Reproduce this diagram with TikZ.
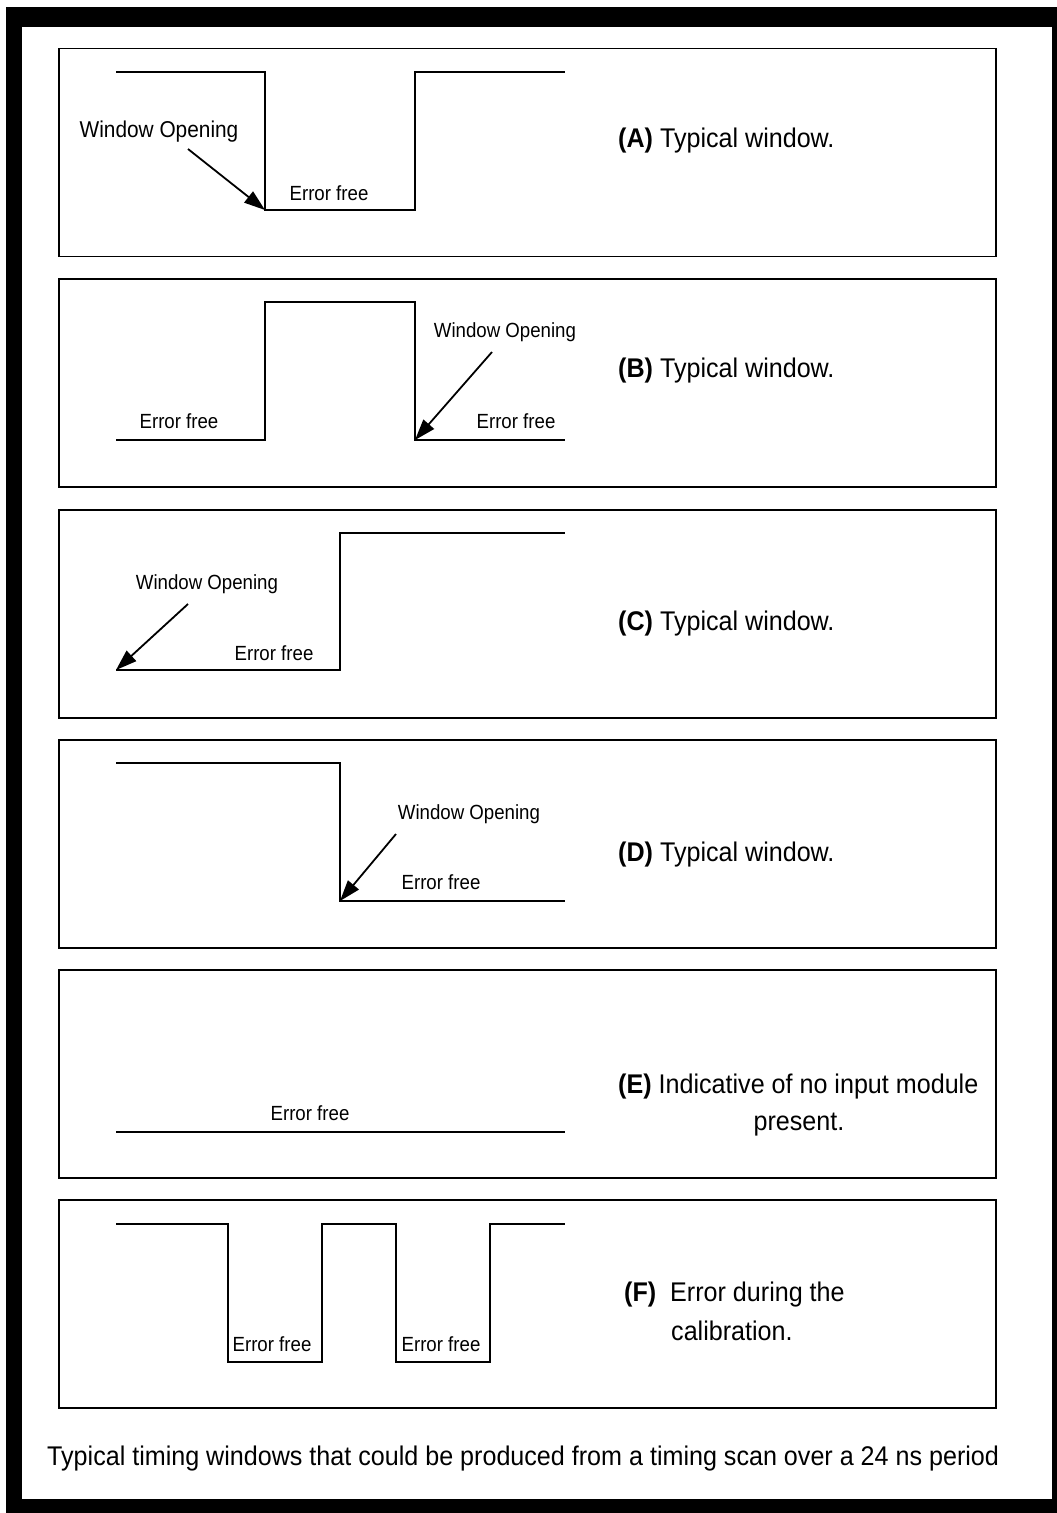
\documentclass[tikz,border=0pt]{standalone}
\usepackage{fontspec}
\setmainfont{Liberation Sans}
\newfontfamily\narrowsf[FakeStretch=0.93]{Liberation Sans}
\newfontfamily\tagsf[FakeStretch=0.91]{Liberation Sans}
\usetikzlibrary{arrows.meta}

\begin{document}
\begin{tikzpicture}[x=1pt, y=-1pt,
  wave/.style={line width=2pt, line join=miter},
  panel/.style={draw, line width=1.8pt},
  errlbl/.style={font=\tagsf\fontsize{20.5}{24}\selectfont, anchor=base, inner sep=0pt},
  winlbl/.style={font=\tagsf\fontsize{20.5}{24}\selectfont, anchor=base, inner sep=0pt},
  note/.style={font=\narrowsf\fontsize{27}{37}\selectfont, anchor=base west, inner sep=0pt},
  arr/.style={-{Triangle[length=21pt,width=14pt]}, line width=1.8pt}]
% outer frame
\fill[white] (0,0) rectangle (1057,1513);
\fill[black] (6,7) rectangle (1057,1513);
\fill[white] (22,27) rectangle (1052,1499);
\foreach \t in {48.5,279,510,740,970,1200} \draw[panel] (59,\t) rectangle (996,\t+208);
% (A)
\draw[wave] (116,72) -- (265,72) -- (265,210) coordinate (aLow) -- (415,210) -- (415,72) -- (565,72);
\node[winlbl, font=\tagsf\fontsize{22.9}{26}\selectfont] (winA) at (159,137) {Window Opening};
\node[errlbl] (errA) at (329,200) {Error free};
\coordinate (aTail) at (188,149);
\draw[arr] (aTail) -- (aLow);
\node[note] (noteA) at (618,147) {\textbf{(A)} Typical window.};
% (B)
\draw[wave] (116,440) -- (265,440) -- (265,302) -- (415,302) -- (415,440) coordinate (bLow) -- (565,440);
\node[errlbl] (errB1) at (179,428) {Error free};
\node[winlbl] (winB) at (505,337) {Window Opening};
\node[errlbl] (errB2) at (516,428) {Error free};
\coordinate (bTail) at (492,352);
\draw[arr] (bTail) -- (bLow);
\node[note] (noteB) at (618,377) {\textbf{(B)} Typical window.};
% (C)
\draw[wave] (116,670) coordinate (cLow) -- (340,670) -- (340,533) -- (565,533);
\node[winlbl] (winC) at (207,589) {Window Opening};
\node[errlbl] (errC) at (274,660) {Error free};
\coordinate (cTail) at (188,604);
\draw[arr] (cTail) -- (cLow);
\node[note] (noteC) at (618,630) {\textbf{(C)} Typical window.};
% (D)
\draw[wave] (116,763) -- (340,763) -- (340,901) coordinate (dLow) -- (565,901);
\node[winlbl] (winD) at (469,819) {Window Opening};
\node[errlbl] (errD) at (441,889) {Error free};
\coordinate (dTail) at (396,834);
\draw[arr] (dTail) -- (dLow);
\node[note] (noteD) at (618,861) {\textbf{(D)} Typical window.};
% (E)
\draw[wave] (116,1132) -- (565,1132);
\node[errlbl] (errE) at (310,1120) {Error free};
\node[note] (noteE) at (618,1093) {\textbf{(E)} Indicative of no input module};
\node[note, anchor=base] (noteE2) at (799,1130) {present.};
% (F)
\draw[wave] (116,1224) -- (228,1224) -- (228,1362) -- (322,1362) -- (322,1224) -- (396,1224)
  -- (396,1362) -- (490,1362) -- (490,1224) -- (565,1224);
\node[errlbl] (errF1) at (272,1351) {Error free};
\node[errlbl] (errF2) at (441,1351) {Error free};
\node[note] (noteF) at (624,1301) {\textbf{(F)}\ \ Error during the};
\node[note] (noteF2) at (671,1340) {calibration.};
% caption
\node[note] (caption) at (47,1465) {Typical timing windows that could be produced from a timing scan over a 24 ns period};
\end{tikzpicture}
\end{document}
